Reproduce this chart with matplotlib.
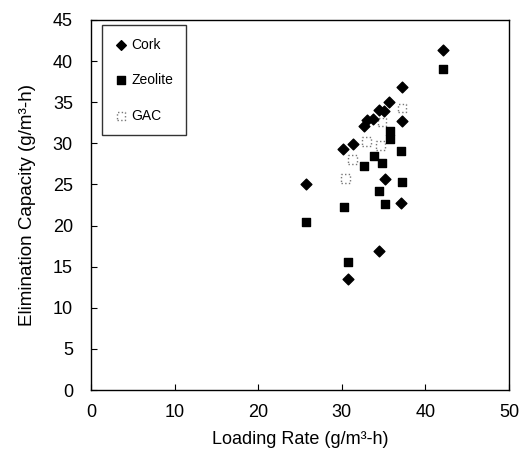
import matplotlib
matplotlib.use("Agg")
import matplotlib.pyplot as plt

plt.rcParams['font.family'] = ['Liberation Sans', 'DejaVu Sans']

cork_x = [25.7, 30.2, 31.3, 32.7, 33.0, 33.7, 34.4, 35.1, 35.7, 37.2, 37.2, 35.2, 37.1, 34.5, 30.8, 42.1]
cork_y = [25.1, 29.3, 29.9, 32.1, 32.8, 33.0, 34.1, 33.9, 35.0, 36.9, 32.7, 25.7, 22.7, 16.9, 13.5, 41.3]

zeo_x = [42.1, 37.1, 33.9, 34.8, 32.7, 37.2, 34.5, 35.2, 30.3, 25.7, 30.8, 35.8, 35.8]
zeo_y = [39.1, 29.1, 28.4, 27.6, 27.3, 25.3, 24.2, 22.6, 22.3, 20.4, 15.6, 31.5, 30.5]

gac_x = [31.3, 33.0, 34.6, 37.2, 34.8, 30.4]
gac_y = [28.0, 30.2, 29.7, 34.3, 32.6, 25.7]

x_ticks = [0, 10, 20, 30, 40, 50]
y_ticks = [0, 5, 10, 15, 20, 25, 30, 35, 40, 45]

fig = plt.figure(figsize=(5.24, 4.61), dpi=100)
ax = fig.add_axes([91/524, 71/461, 418/524, 370/461])

ax.scatter(cork_x, cork_y, marker='D', s=30, color='black', label='Cork', zorder=3)
ax.scatter(zeo_x, zeo_y, marker='s', s=38, color='black', label='Zeolite', zorder=3)
ax.scatter(gac_x, gac_y, marker='s', s=40, facecolors='none', edgecolors='#777777',
           linewidths=1.0, linestyle=':', label='GAC', zorder=2)

ax.set_xlim(0, 50)
ax.set_ylim(0, 45)
ax.set_xticks(x_ticks)
ax.set_yticks(y_ticks)
ax.tick_params(direction='in', labelsize=13, length=4, width=0.8)
ax.tick_params(axis='x', pad=10)
ax.tick_params(axis='y', pad=13)
for sp in ax.spines.values():
    sp.set_linewidth(1.0)

ax.set_xlabel('Loading Rate (g/m³-h)', fontsize=13, labelpad=7)
ax.set_ylabel('Elimination Capacity (g/m³-h)', fontsize=13.5, labelpad=12)

leg = ax.legend(loc='upper left', bbox_to_anchor=(11/418, 1 - 5/370), borderaxespad=0,
                fontsize=10, frameon=True, fancybox=False, edgecolor='black',
                handletextpad=0.2, labelspacing=1.55, borderpad=0.9,
                markerscale=0.9, handlelength=1.0)
leg.get_frame().set_linewidth(1.0)

fig.savefig('out.png', dpi=100)
